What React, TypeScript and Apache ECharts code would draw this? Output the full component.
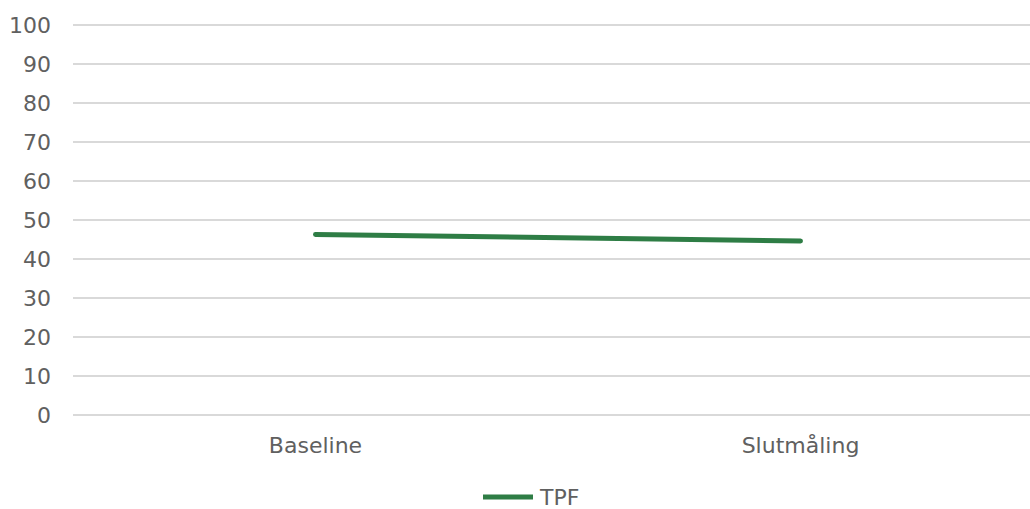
import React, { useEffect, useRef } from "react";
import * as echarts from "echarts";

const categories = ["Baseline", "Slutmåling"];
const seriesName = "TPF";
const tpfValues = [46.3, 44.6];
const yMin = 0;
const yMax = 100;
const yInterval = 10;

export default function App() {
  const ref = useRef<HTMLDivElement>(null);
  useEffect(() => {
    if (!ref.current) return;
    const chart = echarts.init(ref.current, undefined, { renderer: "svg" });
    const font = "'DejaVu Sans', sans-serif";
    const grey = "#606060";
    chart.setOption({
      animation: false,
      textStyle: { fontFamily: font },
      grid: { left: 73, right: 0, top: 25, bottom: 94, containLabel: false },
      legend: {
        data: [{ name: seriesName, icon: "path://M0,0 L10,0 L10,1 L0,1 Z" }],
        top: 486,
        left: 483,
        padding: 0,
        itemWidth: 54,
        itemHeight: 5,
        itemGap: 10,
        textStyle: { color: grey, fontSize: 22, fontFamily: font, lineHeight: 22 },
      },
      xAxis: {
        type: "category",
        data: categories,
        boundaryGap: true,
        axisLine: { show: false },
        axisTick: { show: false },
        axisLabel: { color: grey, fontSize: 22, margin: 19, fontFamily: font },
      },
      yAxis: {
        type: "value",
        min: yMin,
        max: yMax,
        interval: yInterval,
        axisLine: { show: false },
        axisTick: { show: false },
        axisLabel: { color: grey, fontSize: 22, margin: 22, fontFamily: font },
        splitLine: { lineStyle: { color: "#D9D9D9", width: 2 } },
      },
      series: [
        {
          name: seriesName,
          type: "line",
          data: tpfValues,
          symbol: "none",
          lineStyle: { color: "#2E7D45", width: 5, cap: "round" },
          itemStyle: { color: "#2E7D45" },
        },
      ],
    });
    return () => chart.dispose();
  }, []);
  return (
    <div style={{ position: "absolute", left: 0, top: 0, width: 1030, height: 509, overflow: "hidden" }}>
      <div ref={ref} style={{ width: 1043, height: 509 }} />
    </div>
  );
}
